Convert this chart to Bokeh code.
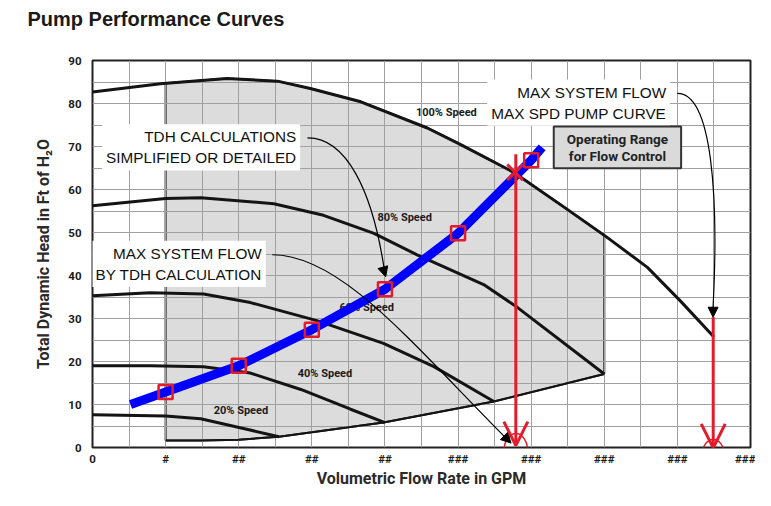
import numpy as np
from bokeh.plotting import figure
from bokeh.models import (FixedTicker, Label, Arrow, NormalHead, OpenHead,
                          Title)
from bokeh.core.properties import value
from bokeh.embed import file_html
from bokeh.resources import INLINE

# ---------------- data ----------------
x_tick_pos = [0, 1, 2, 3, 4, 5, 6, 7, 8, 9]
x_tick_labels = ["0", "#", "##", "##", "##", "###", "###", "###", "###", "###"]
y_tick_pos = [0, 10, 20, 30, 40, 50, 60, 70, 80, 90]

speed100_x = [0.0, 0.93, 1.84, 2.53, 2.98, 3.67, 4.58, 5.03, 5.76, 6.45, 7.02, 7.59, 8.04, 8.50]
speed100_y = [82.7, 84.6, 85.8, 85.2, 83.5, 80.4, 74.3, 70.5, 64.0, 55.9, 49.1, 41.9, 34.1, 25.7]
speed80_x = [0.0, 1.0, 1.48, 2.48, 3.16, 3.85, 4.44, 5.35, 5.81, 7.0]
speed80_y = [56.2, 57.9, 58.1, 56.7, 54.0, 49.8, 44.8, 37.9, 32.6, 17.1]
speed60_x = [0.0, 0.79, 1.52, 2.16, 3.07, 3.98, 4.67, 5.49]
speed60_y = [35.3, 36.0, 35.7, 33.7, 29.5, 24.2, 18.8, 10.7]
speed40_x = [0.0, 0.79, 1.52, 2.16, 2.85, 3.53, 4.0]
speed40_y = [19.0, 19.0, 18.8, 17.3, 13.5, 8.9, 5.8]
speed20_x = [0.0, 1.0, 1.48, 2.02, 2.55]
speed20_y = [7.6, 7.35, 6.7, 4.6, 2.5]

# lower boundary of the operating range
bottom_x = [1.0, 1.48, 2.0, 2.55, 3.98, 5.49, 7.0]
bottom_y = [1.6, 1.6, 1.8, 2.5, 5.8, 10.7, 17.1]
range_left = 1.0
range_right = 7.0

# system curve (TDH calculation)
system_x = [0.52, 1, 2, 3, 4, 5, 6, 6.15]
system_y = [10.0, 12.9, 19.0, 27.4, 36.8, 49.8, 66.8, 69.8]
calc_x = [1, 2, 3, 4, 5, 6]
calc_y = [12.9, 19.0, 27.4, 36.8, 49.8, 66.8]

# intersection of system curve and 100% curve
cross_x = [5.78]
cross_y = [64.0]

# red drop lines to max flow
drop_x = [5.79, 8.49]
drop_top = [68.2, 30.3]
drop_tip = [0.45, -0.1]
drop_ell_y = [-1.0, -1.6]
drop_ell_w = [0.33, 0.30]
drop_ell_h = [8.5, 6.9]

speed_labels = ["100% Speed", "80% Speed", "60% Speed", "40% Speed", "20% Speed"]
speed_label_x = [4.84, 4.27, 3.75, 3.18, 2.03]
speed_label_y = [78.0, 53.4, 32.6, 17.3, 8.5]

# ---------------- figure ----------------
p = figure(width=755, height=490, x_range=(0, 9), y_range=(0, 90),
           output_backend="svg", toolbar_location=None, title_location=None,
           min_border_left=92, min_border_top=60, min_border_right=5,
           min_border_bottom=38, background_fill_color="white",
           border_fill_color="white")

# spacer (closest to the frame) then the real title above it
p.add_layout(Title(text=" ", text_font_size="16px", standoff=10), "above")
p.add_layout(Title(text="Pump Performance Curves",
                   text_font="Liberation Sans", text_font_style="bold",
                   text_font_size="20px", text_color="#1a1a1a",
                   align="left", offset=-65, standoff=4), "above")

p.outline_line_color = "#222222"
p.outline_line_width = 2

p.xaxis.ticker = FixedTicker(ticks=x_tick_pos)
p.xaxis.major_label_overrides = {t: l for t, l in zip(x_tick_pos, x_tick_labels)}
p.yaxis.ticker = FixedTicker(ticks=y_tick_pos)
for ax in (p.xaxis, p.yaxis):
    ax.axis_line_color = None
    ax.major_tick_line_color = None
    ax.minor_tick_line_color = None
    ax.major_tick_out = 0
    ax.major_tick_in = 0
    ax.minor_tick_out = 0
    ax.minor_tick_in = 0
    ax.major_label_text_font = "Roboto"
    ax.major_label_text_font_style = "bold"
    ax.major_label_text_font_size = "11.5px"
    ax.major_label_text_color = "#1a1a1a"
    ax.axis_label_text_font = "Roboto"
    ax.axis_label_text_font_style = "bold"
    ax.axis_label_text_font_size = "16px"
    ax.axis_label_text_color = "#2a2a2a"
p.xaxis.major_label_standoff = 4
p.xaxis.axis_label_standoff = 0
p.yaxis.major_label_standoff = 11
p.yaxis.axis_label_standoff = 12
p.xaxis.axis_label = "Volumetric Flow Rate in GPM"
p.yaxis.axis_label = "Total Dynamic Head in Ft of H\u2082O"

p.xgrid.ticker = FixedTicker(ticks=[i * 0.5 for i in range(19)])
p.ygrid.ticker = FixedTicker(ticks=list(range(0, 91, 5)))
p.grid.grid_line_color = "#a0a0a0"
p.grid.grid_line_width = 1

# shaded operating range
top_inner = [x for x in speed100_x if range_left < x < range_right]
top_xs = [range_left] + top_inner + [range_right]
top_ys = list(np.interp(top_xs, speed100_x, speed100_y))
region_x = top_xs + bottom_x[::-1]
region_y = top_ys + bottom_y[::-1]
p.patch(region_x, region_y, fill_color="#dcdcdc", line_color="#222222",
        line_width=2, level="image")

# pump curves
for xs, ys in [(speed100_x, speed100_y), (speed80_x, speed80_y),
               (speed60_x, speed60_y), (speed40_x, speed40_y),
               (speed20_x, speed20_y)]:
    p.line(xs, ys, line_color="#141414", line_width=3)
p.line(bottom_x, bottom_y, line_color="#141414", line_width=2)

p.text(x=speed_label_x, y=speed_label_y, text=speed_labels,
       text_font=value("Roboto"), text_font_style="bold",
       text_font_size="11px", text_align="center", text_baseline="middle",
       text_color="#1a1a1a")

# system curve
RED = "#e31b2b"
p.line(system_x, system_y, line_color="#0000ff", line_width=9)
p.scatter(calc_x, calc_y, marker="square", size=14, fill_alpha=0,
          line_color=RED, line_width=2.5)
p.scatter(cross_x, cross_y, marker="x", size=22, line_color=RED,
          line_width=3)

# circles round the max-flow points
p.ellipse(x=drop_x, y=drop_ell_y, width=drop_ell_w, height=drop_ell_h,
          fill_alpha=0, line_color=RED, line_width=1.5)

for dx, dt, dtip in zip(drop_x, drop_top, drop_tip):
    p.add_layout(Arrow(end=OpenHead(size=24, line_color=RED, line_width=3),
                       x_start=dx, y_start=dt, x_end=dx, y_end=dtip,
                       line_color=RED, line_width=3))

# callout leader curves
callouts = [
    # x0, y0, cx0, cy0, cx1, cy1, x1, y1, arrow start (x,y), arrow end (x,y)
    (2.94, 72.0, 3.46, 72.1, 3.83, 60.1, 3.995, 40.9, 3.95, 43.2, 4.01, 39.7),
    (2.458, 44.83, 3.393, 44.83, 4.35, 24.56, 5.636, 2.53, 5.581, 3.44, 5.725, 1.03),
    (7.999, 82.35, 8.482, 82.4, 8.564, 57.85, 8.488, 32.6, 8.488, 33.5, 8.488, 30.3),
]
for c in callouts:
    p.bezier(x0=[c[0]], y0=[c[1]], cx0=[c[2]], cy0=[c[3]], cx1=[c[4]],
             cy1=[c[5]], x1=[c[6]], y1=[c[7]], line_color="black",
             line_width=1.2)
    p.add_layout(Arrow(end=NormalHead(size=10, fill_color="black",
                                      line_color="black", line_width=1),
                       x_start=c[8], y_start=c[9], x_end=c[10], y_end=c[11],
                       line_alpha=0))

box_texts = ["TDH CALCULATIONS\nSIMPLIFIED OR DETAILED",
             "MAX SYSTEM FLOW\nBY TDH CALCULATION",
             "MAX SYSTEM FLOW\nMAX SPD PUMP CURVE"]
box_x = [2.84, 2.37, 7.90]
box_y = [69.8, 42.7, 80.2]
for t, bx, by in zip(box_texts, box_x, box_y):
    p.add_layout(Label(x=bx, y=by, text=t, text_align="right",
                       text_baseline="middle", text_font="Liberation Sans",
                       text_font_size="15.3px", text_color="#111111",
                       text_line_height=1.25,
                       background_fill_color="white", padding=4))

p.add_layout(Label(x=7.18, y=69.8, text="Operating Range\nfor Flow Control",
                   text_align="center", text_baseline="middle",
                   text_font="Roboto", text_font_style="bold",
                   text_font_size="13.5px", text_color="#222222",
                   text_line_height=1.1,
                   background_fill_color="#dadada",
                   border_line_color="#333333", border_line_width=2,
                   padding=(13, 4)))

open("out.html", "w").write(file_html(p, INLINE))
